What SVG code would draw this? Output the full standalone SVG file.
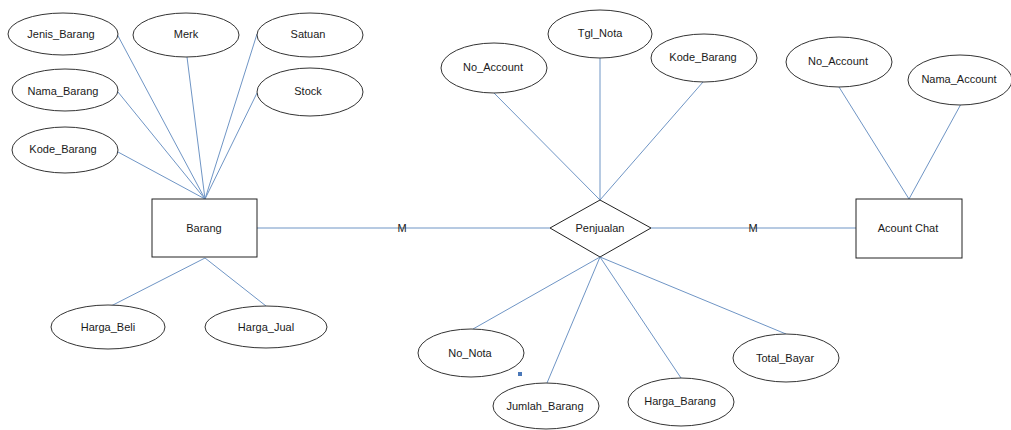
<svg xmlns="http://www.w3.org/2000/svg" width="1011" height="430" viewBox="0 0 1011 430">
<style>
.attr{fill:#fff;stroke:#333;stroke-width:1}
.ent{fill:#fff;stroke:#222;stroke-width:1}
.lbl{font-family:"Liberation Sans",Arial,sans-serif;font-size:11px;fill:#1a1a1a;text-anchor:middle}
.con line{stroke:#6f95c5;stroke-width:1}
</style>
<rect width="1011" height="430" fill="#fff"/>
<g class="con" id="connectors">
<line x1="117" y1="34" x2="205" y2="199"/>
<line x1="187" y1="57" x2="205" y2="199"/>
<line x1="257" y1="34" x2="205" y2="199"/>
<line x1="118" y1="92" x2="205" y2="199"/>
<line x1="257" y1="93" x2="205" y2="199"/>
<line x1="118" y1="152" x2="205" y2="199"/>
<line x1="205" y1="258" x2="111" y2="306"/>
<line x1="205" y1="258" x2="266" y2="306"/>
<line x1="257" y1="228" x2="550" y2="228"/>
<line x1="651" y1="228" x2="856" y2="228"/>
<line x1="494" y1="93" x2="600" y2="200"/>
<line x1="600" y1="58" x2="600" y2="200"/>
<line x1="703" y1="82" x2="600" y2="200"/>
<line x1="600" y1="257" x2="473" y2="329"/>
<line x1="600" y1="257" x2="547" y2="383"/>
<line x1="600" y1="257" x2="681" y2="378"/>
<line x1="600" y1="257" x2="786" y2="334"/>
<line x1="839" y1="87" x2="909" y2="199"/>
<line x1="961" y1="104" x2="909" y2="199"/>
</g>
<g id="card-1"><text class="lbl" x="402" y="232">M</text></g>
<g id="card-2"><text class="lbl" x="753" y="232">M</text></g>
<g id="jenis_barang"><ellipse class="attr" cx="63" cy="34" rx="55" ry="21"/><text class="lbl" x="61" y="38">Jenis_Barang</text></g>
<g id="merk"><ellipse class="attr" cx="186" cy="35" rx="53" ry="22"/><text class="lbl" x="186" y="38">Merk</text></g>
<g id="satuan"><ellipse class="attr" cx="310" cy="35" rx="53" ry="22"/><text class="lbl" x="308" y="38">Satuan</text></g>
<g id="nama_barang"><ellipse class="attr" cx="65" cy="90" rx="53" ry="21"/><text class="lbl" x="63" y="95">Nama_Barang</text></g>
<g id="stock"><ellipse class="attr" cx="310" cy="92" rx="53" ry="24"/><text class="lbl" x="308" y="95">Stock</text></g>
<g id="kode_barang_1"><ellipse class="attr" cx="65" cy="150" rx="53" ry="23"/><text class="lbl" x="63" y="153">Kode_Barang</text></g>
<g id="barang"><rect class="ent" x="152" y="199" width="105" height="58"/><text class="lbl" x="204" y="232">Barang</text></g>
<g id="harga_beli"><ellipse class="attr" cx="108" cy="327" rx="57" ry="22"/><text class="lbl" x="108" y="331">Harga_Beli</text></g>
<g id="harga_jual"><ellipse class="attr" cx="266" cy="327" rx="61" ry="21"/><text class="lbl" x="266" y="331">Harga_Jual</text></g>
<g id="no_account_1"><ellipse class="attr" cx="494" cy="68" rx="53" ry="25"/><text class="lbl" x="493" y="71">No_Account</text></g>
<g id="tgl_nota"><ellipse class="attr" cx="600" cy="34" rx="52" ry="24"/><text class="lbl" x="600" y="37">Tgl_Nota</text></g>
<g id="kode_barang_2"><ellipse class="attr" cx="704" cy="58" rx="53" ry="24"/><text class="lbl" x="703" y="61">Kode_Barang</text></g>
<g id="penjualan"><polygon class="ent" points="600,200 651,228 600,257 550,228"/><text class="lbl" x="600" y="232">Penjualan</text></g>
<g id="no_nota"><ellipse class="attr" cx="471" cy="353" rx="53" ry="24"/><text class="lbl" x="470" y="357">No_Nota</text></g>
<g id="jumlah_barang"><ellipse class="attr" cx="546" cy="406" rx="53" ry="23"/><text class="lbl" x="545" y="410">Jumlah_Barang</text></g>
<g id="harga_barang"><ellipse class="attr" cx="681" cy="402" rx="53" ry="24"/><text class="lbl" x="680" y="405">Harga_Barang</text></g>
<g id="total_bayar"><ellipse class="attr" cx="786" cy="358" rx="53" ry="24"/><text class="lbl" x="785" y="362">Total_Bayar</text></g>
<g id="marker"><rect x="518" y="372" width="4" height="4" fill="#4a78b8"/></g>
<g id="no_account_2"><ellipse class="attr" cx="839" cy="62" rx="53" ry="25"/><text class="lbl" x="838" y="65">No_Account</text></g>
<g id="nama_account"><ellipse class="attr" cx="960" cy="80" rx="52" ry="25"/><text class="lbl" x="959" y="83">Nama_Account</text></g>
<g id="acount_chat"><rect class="ent" x="856" y="199" width="106" height="59"/><text class="lbl" x="908" y="232">Acount Chat</text></g>
</svg>
